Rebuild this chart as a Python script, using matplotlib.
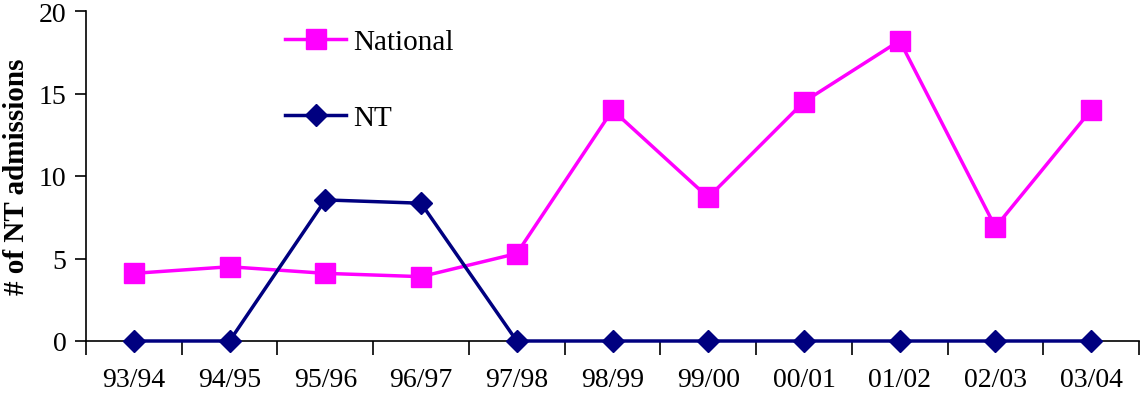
import matplotlib
matplotlib.use("Agg")
import matplotlib.pyplot as plt
import numpy as np

categories = ["93/94", "94/95", "95/96", "96/97", "97/98", "98/99",
              "99/00", "00/01", "01/02", "02/03", "03/04"]
national = [4.1, 4.5, 4.1, 3.9, 5.3, 14.0, 8.7, 14.5, 18.2, 6.9, 14.0]
nt = [0, 0, 8.55, 8.35, 0, 0, 0, 0, 0, 0, 0]
yticks = [0, 5, 10, 15, 20]

plt.rcParams['font.family'] = ['Liberation Serif', 'DejaVu Serif']

fig = plt.figure(figsize=(11.44, 4.06), dpi=100)
ax = fig.add_axes([86/1144, 64/406, (1139-86)/1144, (342-12)/406])

x = np.arange(len(categories))
ax.plot(x, national, color='#FF00FF', lw=2.5, marker='s', ms=14.5,
        label='National', zorder=3)
ax.plot(x, nt, color='#000080', lw=2.5, marker='D', ms=11.5,
        label='NT', zorder=4, clip_on=False)

ax.set_xlim(-0.5, len(categories) - 0.5)
ax.set_ylim(0, 20)
ax.set_yticks(yticks)
ax.set_xticks(x)
ax.set_xticklabels(categories)
ax.set_xticks(np.arange(-0.5, len(categories)), minor=True)
ax.tick_params(axis='x', which='major', length=0, pad=19, labelsize=20)
ax.tick_params(axis='x', which='minor', length=10, width=1.2, direction='out')
ax.tick_params(axis='y', length=8, width=1.2, direction='out', pad=6, labelsize=20)

for s in ['top', 'right']:
    ax.spines[s].set_visible(False)
for s in ['left', 'bottom']:
    ax.spines[s].set_linewidth(1.2)

ax.set_ylabel('# of NT admissions', fontsize=21, fontweight='bold', labelpad=6)

leg = ax.legend(loc='upper left', bbox_to_anchor=(285/1144, 1 - 30/406),
                bbox_transform=fig.transFigure, frameon=False, fontsize=21,
                labelspacing=1.7, handlelength=2.1, handletextpad=0.25,
                borderpad=0, borderaxespad=0)

fig.savefig('out.png', dpi=100)
